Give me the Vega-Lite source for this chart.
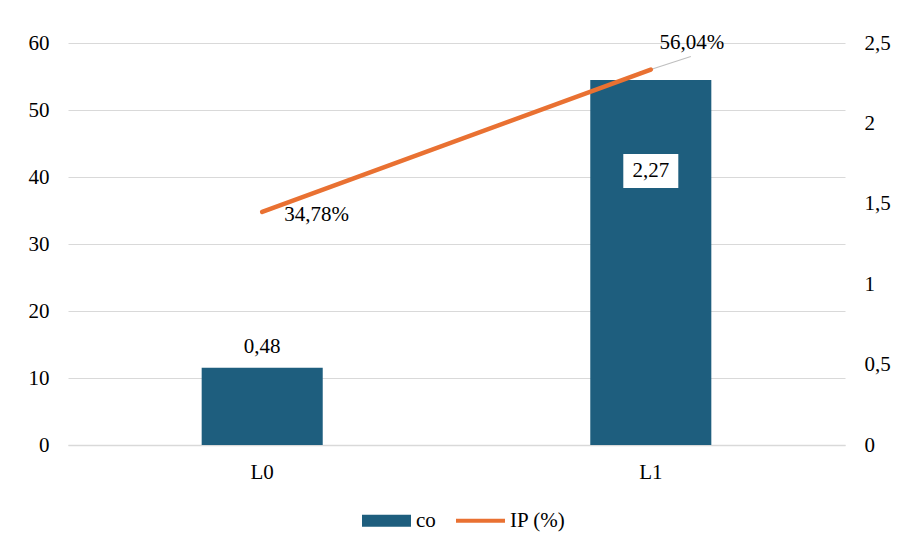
{
  "$schema": "https://vega.github.io/schema/vega-lite/v6.json",
  "width": 777,
  "height": 402,
  "autosize": {"type": "none"},
  "padding": {"left": 68, "top": 43, "right": 56, "bottom": 100},
  "background": "white",
  "data": {"values": [
    {"cat": "L0", "co": 0.48, "IP": 34.78},
    {"cat": "L1", "co": 2.27, "IP": 56.04}
  ]},
  "transform": [
    {"calculate": "replace(format(datum.co,'.2f'),'.',',')", "as": "coLabel"},
    {"calculate": "replace(format(datum.IP,'.2f'),'.',',') + '%'", "as": "ipLabel"}
  ],
  "encoding": {
    "x": {"field": "cat", "type": "nominal",
      "scale": {"paddingInner": 0.6885, "paddingOuter": 0.344},
      "axis": {"title": null, "labelAngle": 0, "ticks": false, "domainColor": "#d9d9d9", "domainWidth": 1.5, "labelPadding": 16}}
  },
  "layer": [
    {
      "encoding": {
        "y": {"field": "co", "type": "quantitative", "scale": {"domain": [0, 2.5]},
          "axis": {"orient": "right", "title": null, "grid": false, "domain": false, "ticks": false,
            "values": [0, 0.5, 1, 1.5, 2, 2.5], "labelPadding": 19,
            "labelExpr": "replace(format(datum.value,'.1~f'),'.',',')"}}
      },
      "layer": [
        {
          "mark": {"type": "bar"},
          "encoding": {
            "color": {"datum": "co", "type": "nominal",
              "scale": {"domain": ["co", "IP (%)"], "range": ["#1e5e7e", "#e97132"]},
              "legend": {"title": null, "orient": "none", "legendX": 294, "legendY": 453, "direction": "horizontal",
                "symbolSize": 2400, "labelFont": "Liberation Serif", "labelFontSize": 21, "labelColor": "#000",
                "labelOffset": 5, "columnPadding": 20,
                "encode": {"symbols": {"update": {
                  "shape": [{"test": "datum.value === 'co'", "value": "M-1,-0.25H1V0.25H-1Z"}, {"value": "M-1,-0.08H1V0.08H-1Z"}],
                  "fill": [{"test": "datum.value === 'co'", "value": "#1e5e7e"}, {"value": "#e97132"}],
                  "stroke": {"value": "transparent"},
                  "strokeWidth": {"value": 0},
                  "opacity": {"value": 1}
                }}}}
            }
          }
        },
        {
          "transform": [{"filter": "datum.cat === 'L0'"}],
          "mark": {"type": "text", "baseline": "middle", "dy": -21},
          "encoding": {"text": {"field": "coLabel"}}
        },
        {
          "transform": [{"filter": "datum.cat === 'L1'"}],
          "mark": {"type": "bar", "color": "white", "width": 55, "yOffset": 74, "y2Offset": 108},
          "encoding": {"y2": {"field": "co"}}
        },
        {
          "transform": [{"filter": "datum.cat === 'L1'"}],
          "mark": {"type": "text", "baseline": "middle", "dy": 91},
          "encoding": {"text": {"field": "coLabel"}}
        }
      ]
    },
    {
      "encoding": {
        "y": {"field": "IP", "type": "quantitative", "scale": {"domain": [0, 60]},
          "axis": {"orient": "left", "title": null, "grid": true, "gridColor": "#d9d9d9", "gridWidth": 1, "domain": false, "ticks": false,
            "values": [0, 10, 20, 30, 40, 50, 60], "labelPadding": 19, "format": "d"}}
      },
      "layer": [
        {
          "transform": [{"filter": "datum.cat === 'L1'"}],
          "mark": {"type": "rule", "color": "#bfbfbf", "strokeWidth": 1.2, "x2Offset": 40, "y2Offset": -13},
          "encoding": {"x2": {"field": "cat"}, "y2": {"field": "IP"}}
        },
        {
          "mark": {"type": "line", "strokeWidth": 4.5, "strokeCap": "round"},
          "encoding": {"color": {"datum": "IP (%)", "type": "nominal"}}
        },
        {
          "transform": [{"filter": "datum.cat === 'L0'"}],
          "mark": {"type": "text", "align": "left", "baseline": "middle", "dx": 22, "dy": 3},
          "encoding": {"text": {"field": "ipLabel"}}
        },
        {
          "transform": [{"filter": "datum.cat === 'L1'"}],
          "mark": {"type": "text", "align": "center", "baseline": "middle", "dx": 41, "dy": -27},
          "encoding": {"text": {"field": "ipLabel"}}
        }
      ]
    }
  ],
  "resolve": {"scale": {"y": "independent"}},
  "config": {
    "view": {"stroke": null},
    "font": "Liberation Serif",
    "axis": {"labelFont": "Liberation Serif", "labelFontSize": 21, "labelColor": "#000"},
    "text": {"font": "Liberation Serif", "fontSize": 21, "color": "#000"}
  }
}
